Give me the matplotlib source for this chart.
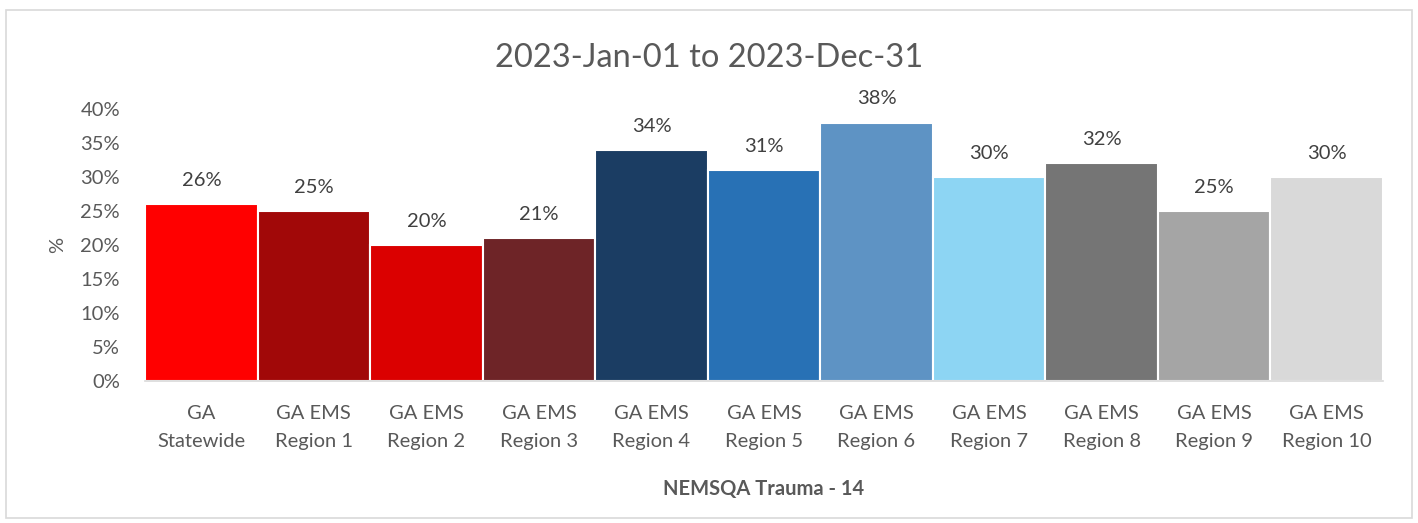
import matplotlib.pyplot as plt
from matplotlib.patches import Rectangle
from matplotlib.ticker import PercentFormatter

# =================================
# DATA
# =================================

categories = [
    "GA\nStatewide", "GA EMS\nRegion 1", "GA EMS\nRegion 2", "GA EMS\nRegion 3",
    "GA EMS\nRegion 4", "GA EMS\nRegion 5", "GA EMS\nRegion 6", "GA EMS\nRegion 7",
    "GA EMS\nRegion 8", "GA EMS\nRegion 9", "GA EMS\nRegion 10",
]
values = [26, 25, 20, 21, 34, 31, 38, 30, 32, 25, 30]
colors = [
    "#FF0000", "#A10808", "#DB0000", "#6E2427", "#1B3D63", "#2871B5",
    "#5E93C4", "#8DD5F3", "#757575", "#A5A5A5", "#D9D9D9",
]
yticks = [0, 5, 10, 15, 20, 25, 30, 35, 40]

title = "2023-Jan-01 to 2023-Dec-31"
xlabel = "NEMSQA Trauma - 14"

# =================================
# CHART
# =================================

plt.rcParams["font.family"] = ["Lato", "DejaVu Sans"]
text_gray = "#595959"

fig = plt.figure(figsize=(14.18, 5.23), dpi=100)
ax = fig.add_axes([0.1023, 0.2715, 0.873, 0.520])

x = range(len(categories))
bars = ax.bar(x, values, width=1.0, color=colors, edgecolor="white", linewidth=1.5)

for bar, v in zip(bars, values):
    ax.annotate(f"{v}%", (bar.get_x() + bar.get_width() / 2, v),
                xytext=(0, 11), textcoords="offset points",
                ha="center", va="bottom", fontsize=14.5, color="#404040")

ax.set_xlim(-0.5, len(categories) - 0.5)
ax.set_ylim(0, 40)
ax.set_yticks(yticks)
ax.yaxis.set_major_formatter(PercentFormatter(decimals=0))
ax.set_xticks(list(x))
ax.set_xticklabels(categories, fontsize=14.5, color=text_gray, linespacing=1.8)
ax.tick_params(axis="y", labelsize=14.5, labelcolor=text_gray, length=0, pad=18)
ax.tick_params(axis="x", length=0, pad=17)

for side in ["top", "right", "left"]:
    ax.spines[side].set_visible(False)
ax.spines["bottom"].set_color("#D9D9D9")
ax.spines["bottom"].set_linewidth(1.2)

ax.set_ylabel("%", fontsize=14.5, color=text_gray, labelpad=10)
ax.set_xlabel(xlabel, fontsize=14.5, fontweight="bold", color=text_gray, labelpad=21)

fig.text(0.5, 0.89, title, ha="center", va="center", fontsize=23.5, color=text_gray)

# chart area border
fig.patches.append(Rectangle((6 / 1418, 5 / 523), 1406 / 1418, 508 / 523,
                             transform=fig.transFigure, fill=False,
                             edgecolor="#D9D9D9", linewidth=1.2))

fig.savefig("out.png", dpi=100)
